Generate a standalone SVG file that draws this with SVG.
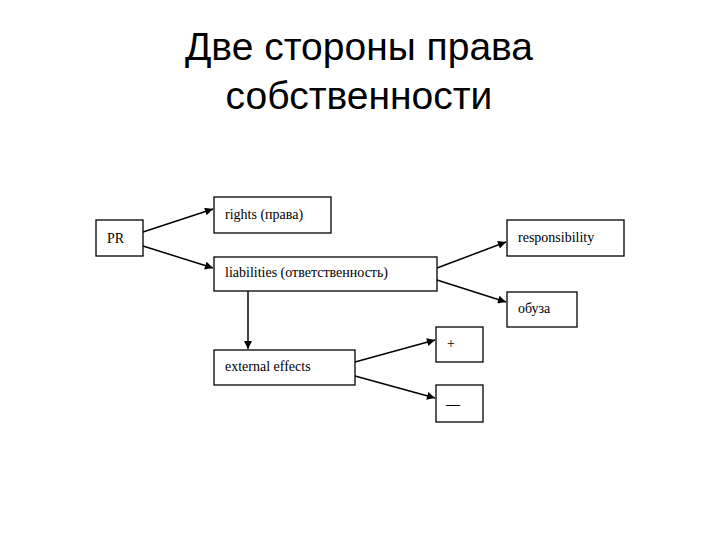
<svg xmlns="http://www.w3.org/2000/svg" width="720" height="540" viewBox="0 0 720 540">
<style>
.t{font-family:"Liberation Sans",Arial,sans-serif;font-size:39px;fill:#000;text-anchor:middle}
.b{fill:#fff;stroke:#000;stroke-width:1.3}
.l{font-family:"Liberation Serif","Times New Roman",serif;font-size:14px;fill:#000}
.c{stroke:#000;stroke-width:1.5;fill:none;marker-end:url(#a)}
</style>
<defs><marker id="a" viewBox="0 0 10 10" refX="10" refY="5" markerWidth="11" markerHeight="8" markerUnits="userSpaceOnUse" orient="auto"><path d="M0,0L10,5L0,10z" fill="#000"/></marker></defs>
<rect width="720" height="540" fill="#fff"/>
<text class="t" x="359" y="60">Две стороны права</text>
<text class="t" x="359" y="109">собственности</text>
<g id="connectors">
<line class="c" x1="143" y1="232" x2="213" y2="209"/>
<line class="c" x1="143" y1="246" x2="213" y2="268"/>
<line class="c" x1="437" y1="268" x2="506" y2="242"/>
<line class="c" x1="437" y1="280" x2="506" y2="302"/>
<line class="c" x1="248" y1="291" x2="248" y2="349"/>
<line class="c" x1="355" y1="362" x2="435" y2="340"/>
<line class="c" x1="355" y1="376" x2="435" y2="398"/>
</g>
<g id="pr"><rect class="b" x="96" y="220" width="47" height="36" stroke-width="2"/><text class="l" x="107" y="243">PR</text></g>
<g id="rights"><rect class="b" x="214" y="197" width="117" height="36"/><text class="l" x="225" y="219">rights (права)</text></g>
<g id="liabilities"><rect class="b" x="214" y="257" width="223" height="34"/><text class="l" x="225" y="277">liabilities (ответственность)</text></g>
<g id="responsibility"><rect class="b" x="507" y="220" width="117" height="36"/><text class="l" x="518" y="242">responsibility</text></g>
<g id="obuza"><rect class="b" x="507" y="292" width="70" height="35"/><text class="l" x="518" y="313">обуза</text></g>
<g id="external"><rect class="b" x="214" y="350" width="141" height="35"/><text class="l" x="225" y="371">external effects</text></g>
<g id="plus"><rect class="b" x="436" y="327" width="47" height="35"/><text class="l" x="447" y="348" font-size="17">+</text></g>
<g id="minus"><rect class="b" x="436" y="385" width="47" height="37"/><text class="l" x="446" y="409" font-size="22" font-weight="bold">—</text></g>
</svg>
